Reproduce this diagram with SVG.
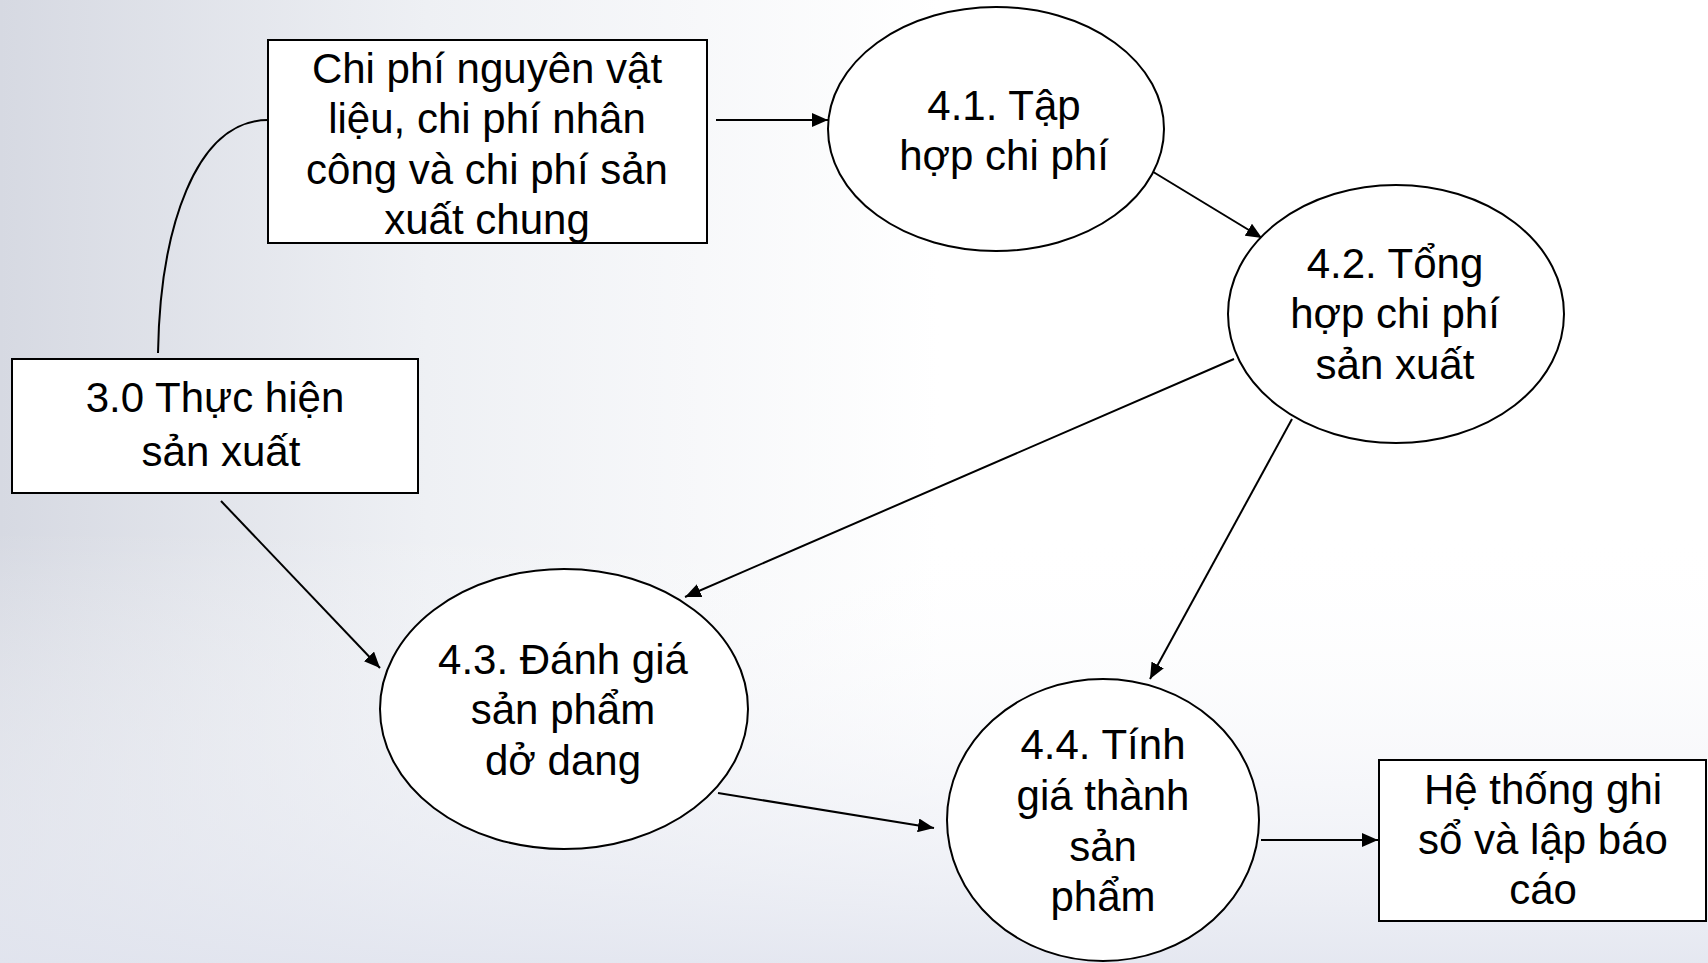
<svg xmlns="http://www.w3.org/2000/svg" width="1708" height="963" viewBox="0 0 1708 963">
<defs>
<linearGradient id="bgH" x1="0" y1="0" x2="1" y2="0">
<stop offset="0" stop-color="#d6d9e2"/>
<stop offset="0.25" stop-color="#eef0f4"/>
<stop offset="0.55" stop-color="#ffffff"/>
<stop offset="1" stop-color="#ffffff"/>
</linearGradient>
<linearGradient id="bgV" x1="0" y1="0" x2="0" y2="1">
<stop offset="0" stop-color="#ffffff" stop-opacity="0"/>
<stop offset="0.55" stop-color="#ffffff" stop-opacity="0"/>
<stop offset="1" stop-color="#e2e5ef" stop-opacity="0.9"/>
</linearGradient>
<marker id="arr" viewBox="0 0 16 14" refX="16" refY="7" markerWidth="16" markerHeight="14" markerUnits="userSpaceOnUse" orient="auto">
<path d="M0,0 L16,7 L0,14 Z" fill="#000"/>
</marker>
<style>
.shape{fill:#ffffff;stroke:#000;stroke-width:2}
.conn{fill:none;stroke:#000;stroke-width:2}
.lbl{font-family:"Liberation Sans",Arial,sans-serif;font-size:42px;fill:#000;text-anchor:middle}
</style>
</defs>
<rect x="0" y="0" width="1708" height="963" fill="url(#bgH)"/>
<rect x="0" y="0" width="1708" height="963" fill="url(#bgV)"/>

<g id="connectors">
<path class="conn" d="M158,353 C160,230 195,120 268,120"/>
<line class="conn" x1="716" y1="120" x2="828" y2="120" marker-end="url(#arr)"/>
<line class="conn" x1="1150" y1="170" x2="1262" y2="238" marker-end="url(#arr)"/>
<line class="conn" x1="1234" y1="359" x2="685" y2="597" marker-end="url(#arr)"/>
<line class="conn" x1="1292" y1="419" x2="1150" y2="679" marker-end="url(#arr)"/>
<line class="conn" x1="221" y1="501" x2="380" y2="668" marker-end="url(#arr)"/>
<line class="conn" x1="718" y1="793" x2="934" y2="828" marker-end="url(#arr)"/>
<line class="conn" x1="1261" y1="840" x2="1378" y2="840" marker-end="url(#arr)"/>
</g>

<g id="box-chiphi">
<rect class="shape" x="268" y="40" width="439" height="203"/>
<text class="lbl" x="487" y="83">Chi phí nguyên vật</text>
<text class="lbl" x="487" y="133">liệu, chi phí nhân</text>
<text class="lbl" x="487" y="184">công và chi phí sản</text>
<text class="lbl" x="487" y="234">xuất chung</text>
</g>

<g id="box-thuchien">
<rect class="shape" x="12" y="359" width="406" height="134"/>
<text class="lbl" x="215" y="412">3.0 Thực hiện</text>
<text class="lbl" x="221" y="466">sản xuất</text>
</g>

<g id="node-41">
<ellipse class="shape" cx="996" cy="129" rx="168" ry="122"/>
<text class="lbl" x="1004" y="120">4.1. Tập</text>
<text class="lbl" x="1004" y="170">hợp chi phí</text>
</g>

<g id="node-42">
<ellipse class="shape" cx="1396" cy="314" rx="168" ry="129"/>
<text class="lbl" x="1395" y="278">4.2. Tổng</text>
<text class="lbl" x="1395" y="328">hợp chi phí</text>
<text class="lbl" x="1395" y="379">sản xuất</text>
</g>

<g id="node-43">
<ellipse class="shape" cx="564" cy="709" rx="184" ry="140"/>
<text class="lbl" x="563" y="674">4.3. Đánh giá</text>
<text class="lbl" x="563" y="724">sản phẩm</text>
<text class="lbl" x="563" y="775">dở dang</text>
</g>

<g id="node-44">
<ellipse class="shape" cx="1103" cy="820" rx="156" ry="141"/>
<text class="lbl" x="1103" y="759">4.4. Tính</text>
<text class="lbl" x="1103" y="810">giá thành</text>
<text class="lbl" x="1103" y="861">sản</text>
<text class="lbl" x="1103" y="911">phẩm</text>
</g>

<g id="box-hethong">
<rect class="shape" x="1379" y="760" width="327" height="161"/>
<text class="lbl" x="1543" y="804">Hệ thống ghi</text>
<text class="lbl" x="1543" y="854">sổ và lập báo</text>
<text class="lbl" x="1543" y="904">cáo</text>
</g>
</svg>
